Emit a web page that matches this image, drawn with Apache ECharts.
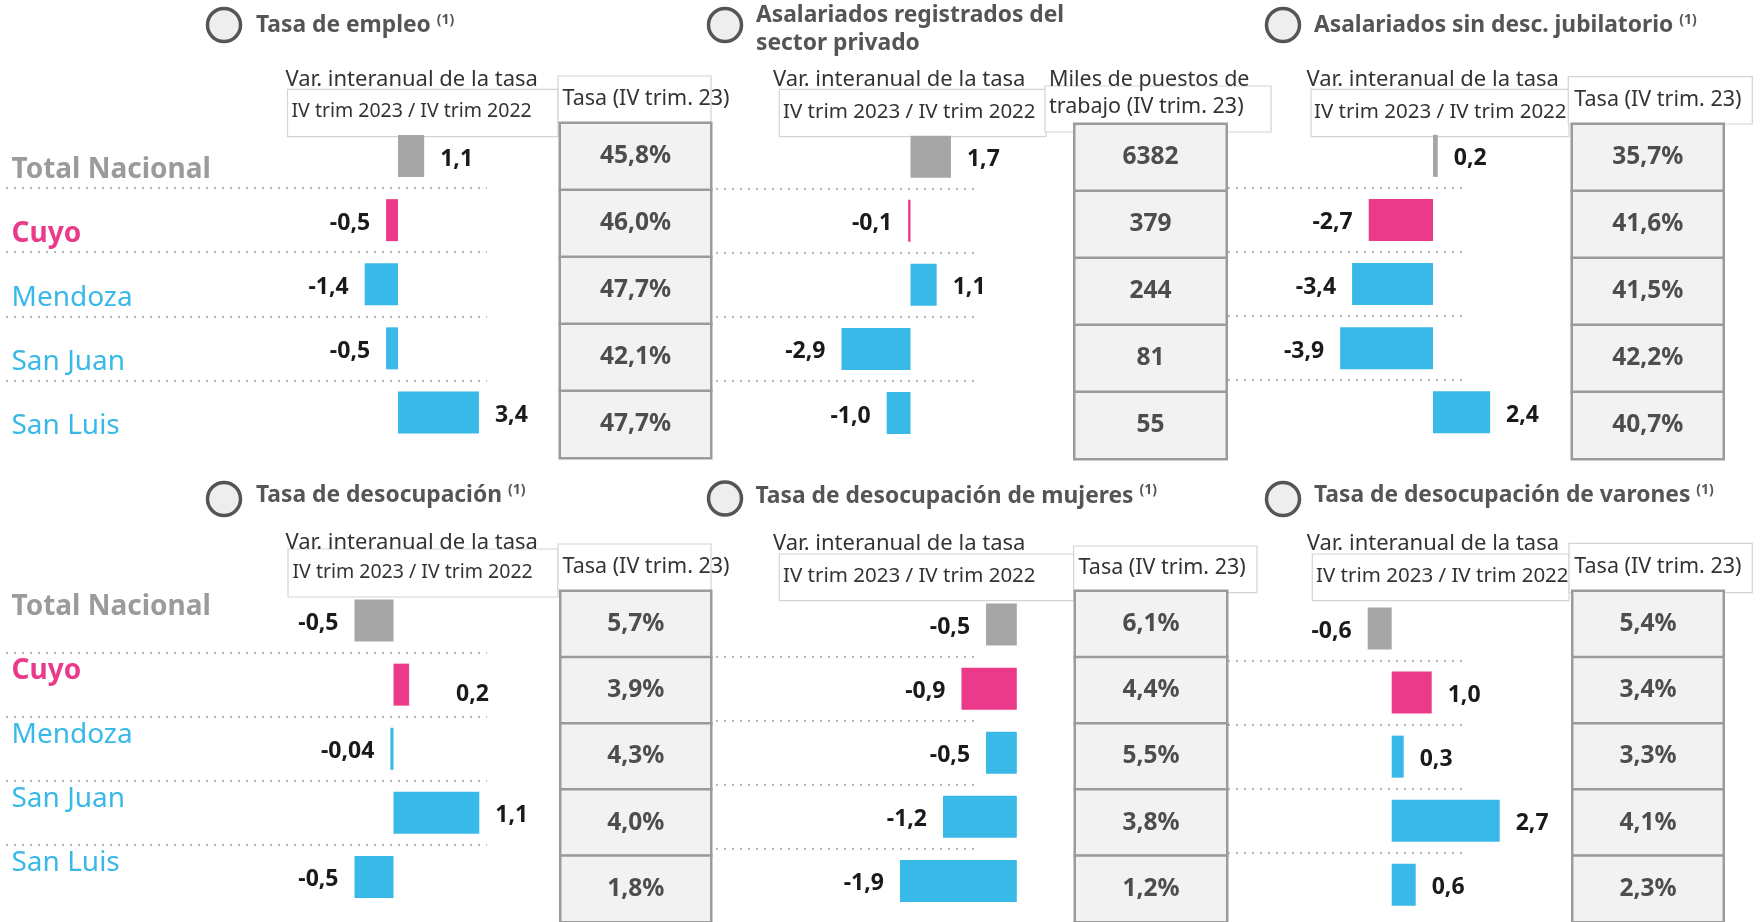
<!DOCTYPE html>
<html>
<head>
<meta charset="utf-8">
<title>Mercado de trabajo - Cuyo</title>
<script src="https://cdn.jsdelivr.net/npm/echarts@6.0.0/dist/echarts.min.js"></script>
<style>
  html, body { margin: 0; padding: 0; background: #fff; }
  #chart { width: 1761px; height: 922px; }
</style>
</head>
<body>
<div id="chart"></div>
<script>
  // datos
  var regions = ['Total Nacional', 'Cuyo', 'Mendoza', 'San Juan', 'San Luis'];

  var empleoVar = [1.1, -0.5, -1.4, -0.5, 3.4];
  var empleoTasa = [45.8, 46.0, 47.7, 42.1, 47.7];

  var registradosVar = [1.7, -0.1, 1.1, -2.9, -1.0];
  var registradosMiles = [6382, 379, 244, 81, 55];

  var sinDescVar = [0.2, -2.7, -3.4, -3.9, 2.4];
  var sinDescTasa = [35.7, 41.6, 41.5, 42.2, 40.7];

  var desocupVar = [-0.5, 0.2, -0.04, 1.1, -0.5];
  var desocupTasa = [5.7, 3.9, 4.3, 4.0, 1.8];

  var mujeresVar = [-0.5, -0.9, -0.5, -1.2, -1.9];
  var mujeresTasa = [6.1, 4.4, 5.5, 3.8, 1.2];

  var varonesVar = [-0.6, 1.0, 0.3, 2.7, 0.6];
  var varonesTasa = [5.4, 3.4, 3.3, 4.1, 2.3];

  var varHeader = 'Var. interanual de la tasa';
  var periodHeader = 'IV trim 2023 / IV trim 2022';
  var tasaHeader = 'Tasa (IV trim. 23)';
  var milesHeader = ['Miles de puestos de', 'trabajo (IV trim. 23)'];

  // estilos
  var FONT = "'Noto Sans', sans-serif";
  var rowColors = ['#a6a6a6', '#ec3a8a', '#38b9e8', '#38b9e8', '#38b9e8'];
  var labelColors = ['#9b9b9b', '#ea3b8b', '#38b9e8', '#38b9e8', '#38b9e8'];

  function fmtVar(v) {
    var s = (Math.abs(v) < 0.1 && v !== 0) ? v.toFixed(2) : v.toFixed(1);
    return s.replace('.', ',');
  }
  function fmtPct(v) { return v.toFixed(1).replace('.', ',') + '%'; }
  function fmtMiles(v) { return String(v); }

  var BAR_H = 320.5, TABLE_H = 335;

  var panels = [
    {vals: empleoVar, table: empleoTasa, fmt: fmtPct,
      bar: {left: 6, width: 481, top: 124, zero: 398, scale: 23.8}, names: 'top',
      tab: {left: 560, top: 123, width: 151}},
    {vals: registradosVar, table: registradosMiles, fmt: fmtMiles,
      bar: {left: 716, width: 260, top: 124.6, zero: 910.5, scale: 23.8},
      tab: {left: 1074.5, top: 124, width: 152}},
    {vals: sinDescVar, table: sinDescTasa, fmt: fmtPct,
      bar: {left: 1228, width: 235, top: 123.8, zero: 1433, scale: 23.8},
      tab: {left: 1572, top: 124, width: 151.5}},
    {vals: desocupVar, table: desocupTasa, fmt: fmtPct,
      bar: {left: 6, width: 481, top: 588.5, zero: 393.5, scale: 78}, names: 'bottom',
      tab: {left: 560.5, top: 591, width: 150.5}, labelOffsets: {1: [31, 10]}},
    {vals: mujeresVar, table: mujeresTasa, fmt: fmtPct,
      bar: {left: 716, width: 260, top: 592.5, zero: 1016.8, scale: 61.5},
      tab: {left: 1075, top: 591, width: 152}},
    {vals: varonesVar, table: varonesTasa, fmt: fmtPct,
      bar: {left: 1228, width: 235, top: 596.4, zero: 1391.7, scale: 40},
      tab: {left: 1572.5, top: 591, width: 151}}
  ];

  var grids = [], xAxes = [], yAxes = [], series = [];

  panels.forEach(function (p, k) {
    var b = p.bar;
    var gi = grids.length;
    grids.push({left: b.left, top: b.top, width: b.width, height: BAR_H});
    xAxes.push({
      type: 'value', gridIndex: gi, show: false,
      min: -(b.zero - b.left) / b.scale,
      max: (b.left + b.width - b.zero) / b.scale
    });

    var rich = {};
    regions.forEach(function (r, i) {
      rich['r' + i] = {
        color: labelColors[i], fontFamily: FONT, fontSize: 28,
        fontWeight: i < 2 ? 'bold' : 'normal'
      };
    });
    yAxes.push({
      type: 'category', gridIndex: gi, data: regions, inverse: true,
      axisLine: {show: false}, axisTick: {show: false},
      axisLabel: {
        show: !!p.names, inside: true, align: 'left', margin: 5.5, interval: 0,
        padding: p.names === 'top' ? [28, 0, 0, 0] : [0, 0, 27, 0],
        formatter: function (v, i) { return '{r' + i + '|' + v + '}'; },
        rich: rich
      },
      splitLine: {
        show: true, interval: 0, showMinLine: false, showMaxLine: false,
        lineStyle: {color: '#b8b8b8', width: 2, type: [2, 6]}
      }
    });
    series.push({
      type: 'bar', xAxisIndex: gi, yAxisIndex: gi, barWidth: 42, clip: false,
      silent: true,
      data: p.vals.map(function (v, i) {
        var lab = {position: v >= 0 ? 'right' : 'left'};
        if (p.labelOffsets && p.labelOffsets[i]) lab.offset = p.labelOffsets[i];
        return {value: v, itemStyle: {color: rowColors[i]}, label: lab};
      }),
      label: {
        show: true, distance: 16, offset: [0, 3], color: '#1a1a1a', fontFamily: FONT,
        fontSize: 23, fontWeight: 'bold',
        formatter: function (prm) { return fmtVar(prm.value); }
      }
    });

    // tabla de la derecha
    var t = p.tab;
    var ti = grids.length;
    grids.push({left: t.left, top: t.top, width: t.width, height: TABLE_H});
    xAxes.push({type: 'category', gridIndex: ti, data: ['v'], show: false});
    yAxes.push({type: 'category', gridIndex: ti, data: regions, inverse: true, show: false});
    series.push({
      type: 'heatmap', xAxisIndex: ti, yAxisIndex: ti, silent: true,
      data: p.table.map(function (v, i) { return [0, i, v]; }),
      itemStyle: {color: '#f2f2f2', borderColor: '#9b9b9b', borderWidth: 2.5},
      label: {
        show: true, color: '#4d4d4d', fontFamily: FONT, fontSize: 24.5, fontWeight: 'bold',
        formatter: function (prm) { return p.fmt(prm.value[2]); }
      }
    });
  });

  // titulos y encabezados
  var graphics = [];
  function circle(x, y) {
    graphics.push({type: 'circle', shape: {cx: x, cy: y, r: 16.5}, z: 1,
      style: {fill: '#eeeeee', stroke: '#555', lineWidth: 3.5}});
  }
  function title(x, y, txt, sup) {
    graphics.push({type: 'text', x: x, y: y, z: 1, style: {
      text: '{t|' + txt + '}' + (sup ? '{s|(1)}' : ''),
      verticalAlign: 'middle',
      rich: {
        t: {fontFamily: FONT, fontSize: 22.8, fontWeight: 'bold', fill: '#555'},
        s: {fontFamily: FONT, fontSize: 14, fontWeight: 'bold', fill: '#555', padding: [0, 0, 12, 6]}
      }
    }});
  }
  function txt(x, y, s, size) {
    graphics.push({type: 'text', x: x, y: y, z: 2, style: {
      text: s, fontFamily: FONT, fontSize: size || 21.5, fill: '#333', verticalAlign: 'middle'
    }});
  }
  function box(x1, y1, x2, y2) {
    graphics.push({type: 'rect', z: 0, shape: {x: x1, y: y1, width: x2 - x1, height: y2 - y1},
      style: {fill: '#fff', stroke: '#d4d4d4', lineWidth: 1.2}});
  }

  circle(224, 25); title(256, 26, 'Tasa de empleo', true);
  circle(725, 25);
  title(756, 16, 'Asalariados registrados del', false);
  title(756, 43.3, 'sector privado', false);
  circle(1283, 25); title(1314, 26, 'Asalariados sin desc. jubilatorio', true);

  circle(224, 499); title(256, 496, 'Tasa de desocupación', true);
  circle(725, 498.5); title(755.5, 496.5, 'Tasa de desocupación de mujeres', true);
  circle(1283, 499); title(1314, 496, 'Tasa de desocupación de varones', true);

  // fila superior
  box(287.5, 89.3, 558, 136.7); box(558, 76, 711, 123);
  txt(285.5, 79.3, varHeader, 22); txt(291.5, 111.7, periodHeader, 19.5); txt(562.4, 99.3, tasaHeader);

  box(779.3, 89.3, 1046, 136.7); box(1045, 86, 1271, 132);
  txt(773, 79.3, varHeader, 22); txt(783, 111.7, periodHeader, 20.5);
  txt(1049, 80, milesHeader[0]); txt(1049, 106.7, milesHeader[1]);

  box(1311, 89.3, 1569, 136.7); box(1568.3, 76.7, 1752.3, 124);
  txt(1306.5, 79.3, varHeader, 22); txt(1314, 111.7, periodHeader, 20.5); txt(1574.3, 100, tasaHeader);

  // fila inferior
  box(288, 549, 558, 597); box(558, 544, 711, 591);
  txt(285.5, 543, varHeader, 22); txt(292.5, 572.7, periodHeader, 19.5); txt(562.4, 566.7, tasaHeader);

  box(779.3, 554, 1074, 600.7); box(1073.6, 546, 1257, 592.7);
  txt(773, 543.3, varHeader, 22); txt(783, 576, periodHeader, 20.5); txt(1078.6, 568.3, tasaHeader);

  box(1312.3, 554, 1569, 600.7); box(1569, 543.3, 1752.3, 592.7);
  txt(1306.7, 543.3, varHeader, 22); txt(1316, 576, periodHeader, 20.5); txt(1574.3, 567.3, tasaHeader);

  var chart = echarts.init(document.getElementById('chart'));
  chart.setOption({
    backgroundColor: '#fff',
    animation: false,
    textStyle: {fontFamily: FONT},
    grid: grids,
    xAxis: xAxes,
    yAxis: yAxes,
    series: series,
    graphic: graphics
  });
</script>
</body>
</html>
